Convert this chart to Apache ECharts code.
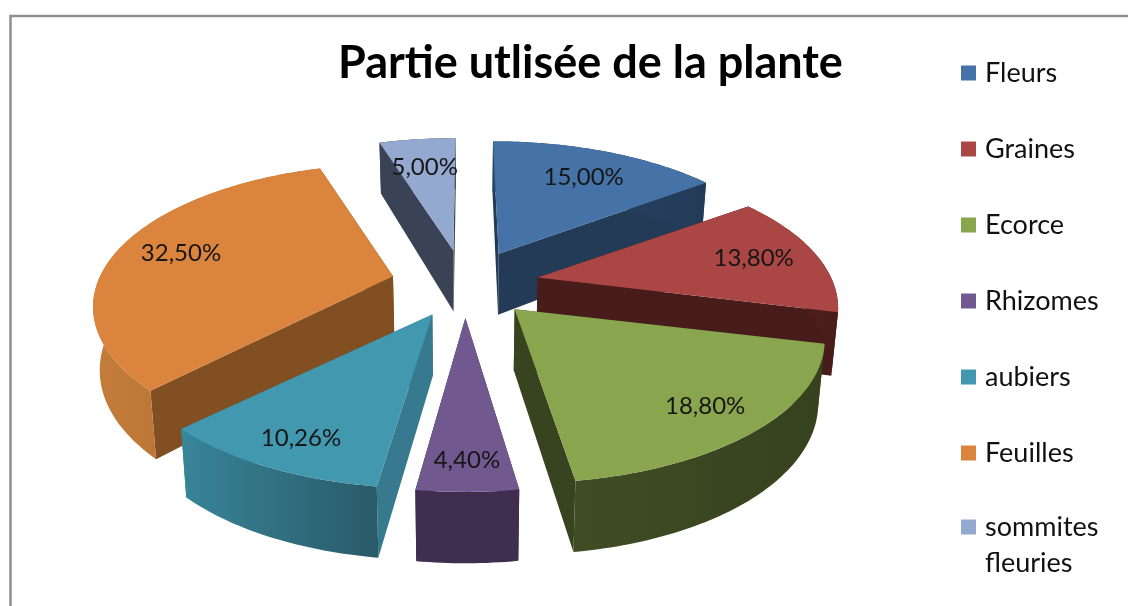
<!DOCTYPE html>
<html>
<head>
<meta charset="utf-8">
<style>
  html, body { margin: 0; padding: 0; background: #fff; }
  #chart { width: 1128px; height: 606px; }
</style>
</head>
<body>
<div id="chart"></div>
<script src="https://cdn.jsdelivr.net/npm/echarts@6/dist/echarts.min.js"></script>
<script>
// donnees
const categories = ["Fleurs", "Graines", "Ecorce", "Rhizomes", "aubiers", "Feuilles", "sommites fleuries"];
const values = [15.0, 13.8, 18.8, 4.4, 10.26, 32.5, 5.0];

// couleurs : dessus, flanc radial, mur exterieur (gauche, droite)
const topColors = ["#4572a7", "#aa4643", "#89a54e", "#71588f", "#4198af", "#db843d", "#93a9cf"];
const sideColors = ["#243b58", "#481c1a", "#38431f", "#3f2e50", "#37798e", "#814f22", "#3a4256"];
const wallLeft = ["#2a4566", "#551f1d", "#404d24", "#3f2e50", "#388599", "#c47c3a", "#3a4256"];
const wallRight = ["#243b58", "#481c1a", "#36411e", "#3f2e50", "#295a68", "#a96830", "#3a4256"];

// camembert 3D : pas de serie native, on projette les parts a la main
const cx = 465, cy = 284;
const rx = 296, ry = 136.5;
const persp = 0.215;
const explodeX = 74, explodeY = 34;
const fan = 14; // le bord s'ecarte un peu plus que la pointe devant
const depth = 61;

const total = values.reduce((a, b) => a + b, 0);
const starts = values.map((_, i) => values.slice(0, i).reduce((a, b) => a + b, 0));

function project(angle, r, tip) {
  const u = Math.sin(angle) * r;
  const v = -Math.cos(angle) * r;
  const s = 1 / (1 - persp * v);
  return { x: tip.x + rx * u * s, y: tip.y + ry * v * s, v: v };
}
// bas du mur : plus haut devant, et resserre vers le centre
const drop = (p) => [cx + (p.x - cx) * 0.982, p.y + depth * (1 + 0.17 * p.v)];

function renderSlice(params, api) {
  const i = drawOrder[params.seriesIndex];
  const a0 = (api.value(1) / total) * Math.PI * 2;
  const a1 = ((api.value(1) + api.value(0)) / total) * Math.PI * 2;
  const mid = (a0 + a1) / 2;
  const midU = Math.sin(mid);
  const midV = -Math.cos(mid);
  const tip = { x: cx + explodeX * midU, y: cy + explodeY * midV };
  const tipPt = { x: tip.x, y: tip.y, v: 0 };
  const rimTip = { x: tip.x + fan * midU * midV, y: tip.y };

  const arc = [];
  const steps = Math.max(8, Math.ceil(((a1 - a0) * 180) / Math.PI));
  for (let k = 0; k <= steps; k++) {
    arc.push(project(a0 + ((a1 - a0) * k) / steps, 1, rimTip));
  }
  const first = arc[0];
  const last = arc[arc.length - 1];

  const radialWall = (p) => ({
    type: "polygon",
    shape: { points: [[tipPt.x, tipPt.y], [p.x, p.y], drop(p), drop(tipPt)] },
    style: { fill: sideColors[i] },
  });
  const outerWall = {
    type: "polygon",
    shape: {
      points: arc.map((p) => [p.x, p.y]).concat(arc.slice().reverse().map((p) => drop(p))),
    },
    style: {
      fill: new echarts.graphic.LinearGradient(0, 0, 1, 0, [
        { offset: 0, color: wallLeft[i] },
        { offset: 1, color: wallRight[i] },
      ]),
    },
  };
  const topFace = {
    type: "polygon",
    shape: { points: [[tip.x, tip.y]].concat(arc.map((p) => [p.x, p.y])) },
    style: { fill: topColors[i] },
  };

  // etiquette plus pres du bord pour les parts de devant
  const lab = project(mid, 0.78 + 0.07 * midV, tip);
  const label = {
    type: "text",
    x: lab.x,
    y: lab.y,
    style: {
      text: api.value(0).toFixed(2).replace(".", ",") + "%",
      fontFamily: "Lato",
      fontSize: 24,
      fill: "#161616",
      align: "center",
      verticalAlign: "middle",
    },
  };

  return {
    type: "group",
    children: [radialWall(first), radialWall(last), outerWall, topFace, label],
  };
}

// du fond vers l'avant
const drawOrder = categories
  .map((_, i) => i)
  .sort((a, b) => {
    const ma = ((starts[a] + values[a] / 2) / total) * Math.PI * 2;
    const mb = ((starts[b] + values[b] / 2) / total) * Math.PI * 2;
    return -Math.cos(ma) - -Math.cos(mb);
  });

const legendText = {
  fontFamily: "Lato",
  fontSize: 27,
  color: "#111",
  lineHeight: 36,
  rich: {
    t: { fontFamily: "Lato", fontSize: 27, color: "#111", lineHeight: 36, padding: [0, 0, 0, 4] },
  },
};

const option = {
  backgroundColor: "#fff",
  animation: false,
  title: {
    text: "Partie utlisée de la plante",
    left: 338,
    top: 37,
    padding: 0,
    textStyle: { fontFamily: "Lato", fontWeight: "bold", fontSize: 45, color: "#000", lineHeight: 52 },
  },
  legend: [
    {
      orient: "vertical",
      left: 961,
      top: 55,
      padding: 0,
      itemWidth: 15,
      itemHeight: 15,
      itemGap: 40,
      icon: "rect",
      selectedMode: false,
      textStyle: legendText,
      formatter: (name) => "{t|" + name + "}",
      data: categories.slice(0, 6),
    },
    {
      // ligne vide au-dessus : le carre reste en face de "sommites"
      orient: "vertical",
      left: 961,
      top: 473,
      padding: 0,
      itemWidth: 15,
      itemHeight: 15,
      icon: "rect",
      selectedMode: false,
      textStyle: legendText,
      formatter: (name) => " \n" + name.split(" ").map((w) => "{t|" + w + "}").join("\n"),
      data: [categories[6]],
    },
  ],
  graphic: [
    {
      type: "polyline",
      shape: { points: [[10.5, 606], [10.5, 16], [1128, 16]] },
      style: { stroke: "#8e8e8e", lineWidth: 2.5, fill: null },
      silent: true,
    },
  ],
  series: drawOrder.map((i) => ({
    type: "custom",
    name: categories[i],
    coordinateSystem: "none",
    silent: true,
    itemStyle: { color: topColors[i] },
    renderItem: renderSlice,
    data: [[values[i], starts[i]]],
  })),
};

const myChart = echarts.init(document.getElementById("chart"));
myChart.setOption(option);
</script>
</body>
</html>
